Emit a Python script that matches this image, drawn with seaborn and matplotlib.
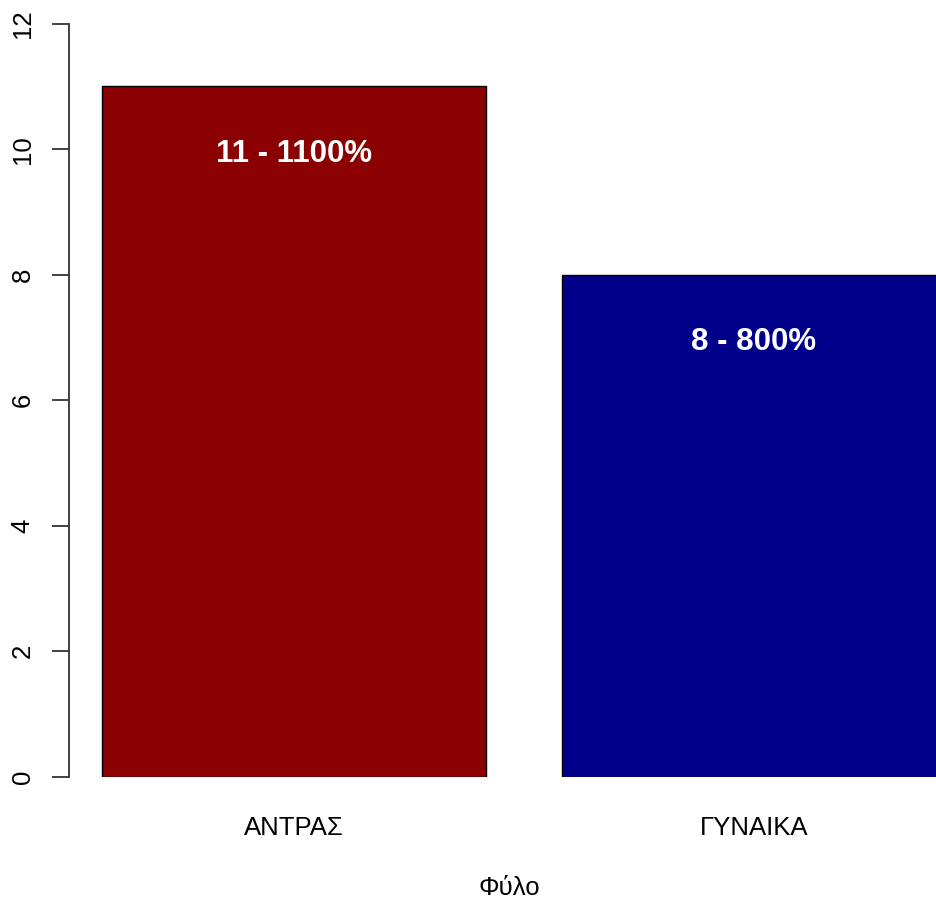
import matplotlib
matplotlib.use("Agg")
import matplotlib.pyplot as plt
import seaborn as sns
import pandas as pd

# data
categories = ["ΑΝΤΡΑΣ", "ΓΥΝΑΙΚΑ"]
counts = [11, 8]
bar_labels = ["11 - 1100%", "8 - 800%"]
colors = ["#8B0000", "#00008B"]
y_ticks = [0, 2, 4, 6, 8, 10, 12]
x_title = "Φύλο"

sns.set_style("white")
plt.rcParams["font.family"] = ["Liberation Sans", "DejaVu Sans"]
plt.rcParams["text.color"] = "black"
plt.rcParams["axes.labelcolor"] = "black"
plt.rcParams["xtick.color"] = "black"
plt.rcParams["ytick.color"] = "black"

df = pd.DataFrame({"Φύλο": categories, "count": counts})

W, H = 937, 902
fig = plt.figure(figsize=(W / 100, H / 100), dpi=100)
left_px, right_px, top_px, bottom_px = 69, 950, 23.7, 776.7
ax = fig.add_axes([left_px / W, (H - bottom_px) / H,
                   (right_px - left_px) / W, (bottom_px - top_px) / H])

sns.barplot(
    data=df, x="Φύλο", y="count", hue="Φύλο",
    palette=dict(zip(categories, colors)), legend=False,
    width=384 / 460, edgecolor="black", linewidth=1.0, saturation=1, ax=ax,
)

# value labels inside bars, about one unit below the top
for i, (v, lab) in enumerate(zip(counts, bar_labels)):
    ax.text(i, v - 1.08, lab, ha="center", va="center", color="white",
            fontsize=22.5, fontweight="bold")

ax.set_xlim((left_px - 294) / 460, (right_px - 294) / 460)
ax.set_ylim(0, 12)
ax.set_yticks(y_ticks)
ax.set_yticklabels([str(t) for t in y_ticks], rotation=90, va="center")

sns.despine(ax=ax, top=True, right=True, bottom=True)
ax.spines["left"].set_bounds(0, 12)
ax.spines["left"].set_color("#333333")
ax.spines["left"].set_linewidth(1.3)

ax.tick_params(axis="y", length=12.2, width=1.3, color="#333333",
               pad=12.6, labelsize=18.5, left=True)
ax.tick_params(axis="x", length=0, pad=28, labelsize=18.5)
ax.set_xlabel(x_title, fontsize=18.5, labelpad=26.5)
ax.set_ylabel("")

fig.savefig("out.png", dpi=100)
